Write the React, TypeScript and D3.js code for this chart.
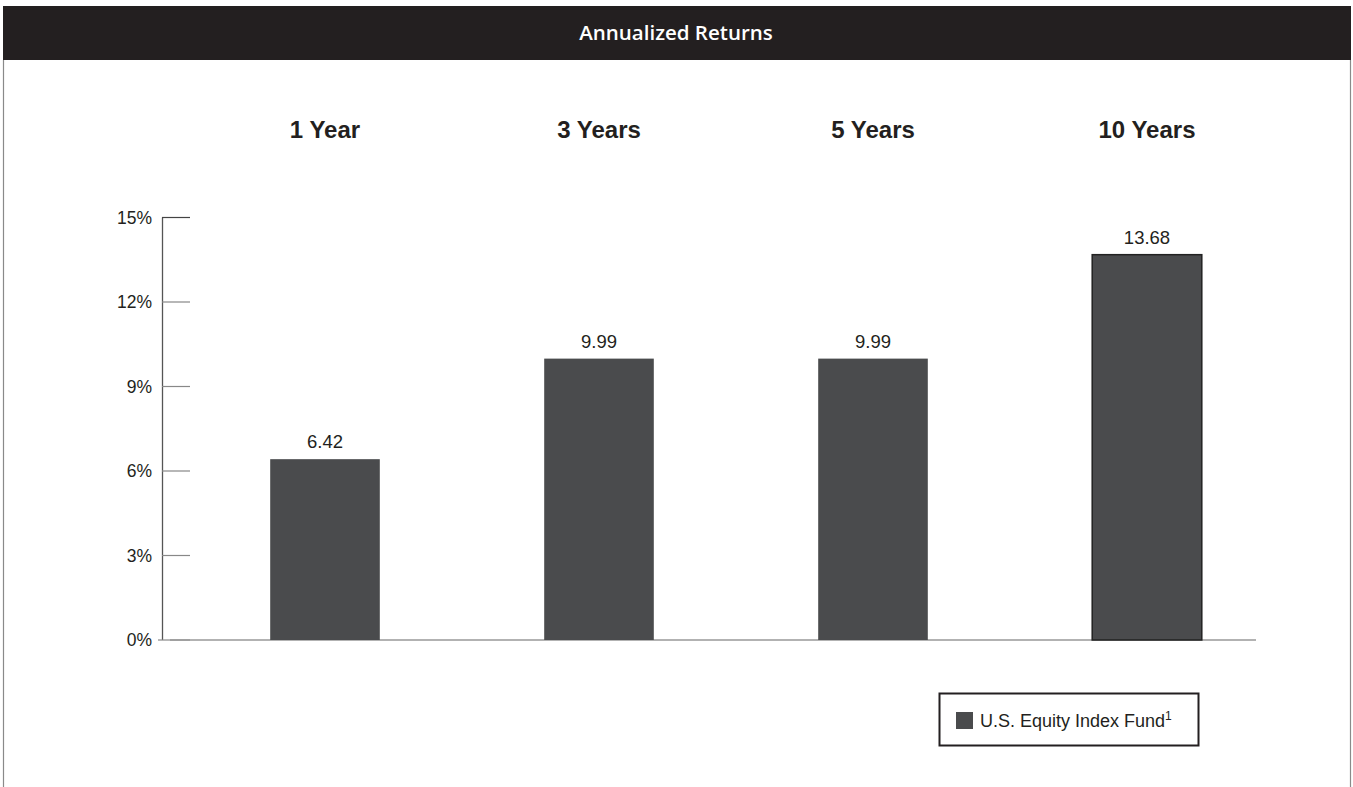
import React, { useEffect, useRef } from "react";
import * as d3 from "d3";

const periods = ["1 Year", "3 Years", "5 Years", "10 Years"];
const returns = [6.42, 9.99, 9.99, 13.68];
const yTicks = [0, 3, 6, 9, 12, 15];
const seriesName = "U.S. Equity Index Fund";

const W = 1353;
const H = 787;
const BAR_COLOR = "#4a4b4d";
const FONT = "Arial, 'Liberation Sans', Helvetica, sans-serif";

const App: React.FC = () => {
  const svgRef = useRef<SVGSVGElement | null>(null);

  useEffect(() => {
    const svg = d3.select(svgRef.current);
    svg.selectAll("*").remove();

    // frame + title bar
    svg.append("rect").attr("width", W).attr("height", H).attr("fill", "#fff");
    svg.append("line")
      .attr("x1", 3.5).attr("x2", 3.5).attr("y1", 60).attr("y2", H)
      .attr("stroke", "#8a8a8a").attr("stroke-width", 1.2);
    svg.append("line")
      .attr("x1", 1350.5).attr("x2", 1350.5).attr("y1", 60).attr("y2", H)
      .attr("stroke", "#8a8a8a").attr("stroke-width", 1.2);
    svg.append("rect")
      .attr("x", 3).attr("y", 6).attr("width", 1348).attr("height", 54)
      .attr("fill", "#231f20");
    svg.append("text")
      .attr("x", 676).attr("y", 40)
      .attr("text-anchor", "middle")
      .style("font-family", "'Open Sans', sans-serif")
      .style("font-weight", 600)
      .style("font-size", "20.5px")
      .style("fill", "#fff")
      .text("Annualized Returns");

    const x = d3.scaleBand<string>()
      .domain(periods)
      .range([188, 1284])
      .paddingInner(0.6)
      .paddingOuter(0.3);

    const y = d3.scaleLinear().domain([0, 15]).range([640, 217.5]);

    // category headers
    svg.append("g")
      .selectAll("text")
      .data(periods)
      .join("text")
      .attr("x", d => x(d)! + x.bandwidth() / 2)
      .attr("y", 138)
      .attr("text-anchor", "middle")
      .style("font-family", FONT)
      .style("font-weight", "bold")
      .style("font-size", "24px")
      .style("fill", "#231f20")
      .text(d => d);

    // y axis
    const axis = svg.append("g");
    axis.append("line")
      .attr("x1", 162.5).attr("x2", 162.5)
      .attr("y1", y(15)).attr("y2", y(0))
      .attr("stroke", "#555").attr("stroke-width", 1.3);
    axis.selectAll("line.tick")
      .data(yTicks)
      .join("line")
      .attr("class", "tick")
      .attr("x1", d => (d === 0 ? 158 : 162))
      .attr("x2", 190)
      .attr("y1", d => y(d))
      .attr("y2", d => y(d))
      .attr("stroke", d => (d === 15 ? "#444" : "#888"))
      .attr("stroke-width", 1.2);
    axis.selectAll("text")
      .data(yTicks)
      .join("text")
      .attr("x", 152)
      .attr("y", d => y(d) + 6)
      .attr("text-anchor", "end")
      .style("font-family", FONT)
      .style("font-size", "17.5px")
      .style("fill", "#231f20")
      .text(d => `${d}%`);

    // baseline
    svg.append("line")
      .attr("x1", 170).attr("x2", 1256)
      .attr("y1", y(0)).attr("y2", y(0))
      .attr("stroke", "#999").attr("stroke-width", 1.5);

    // bars
    const data = periods.map((p, i) => ({ period: p, value: returns[i] }));
    svg.append("g")
      .selectAll("rect")
      .data(data)
      .join("rect")
      .attr("x", d => x(d.period)!)
      .attr("y", d => y(d.value))
      .attr("width", x.bandwidth())
      .attr("height", d => y(0) - y(d.value))
      .attr("fill", BAR_COLOR)
      .attr("stroke", (d, i) => (i === data.length - 1 ? "#222" : "none"))
      .attr("stroke-width", 1.5);

    // value labels
    svg.append("g")
      .selectAll("text")
      .data(data)
      .join("text")
      .attr("x", d => x(d.period)! + x.bandwidth() / 2)
      .attr("y", d => y(d.value) - 11)
      .attr("text-anchor", "middle")
      .style("font-family", FONT)
      .style("font-size", "18.5px")
      .style("fill", "#231f20")
      .text(d => d.value.toFixed(2));

    // legend
    const legend = svg.append("g");
    legend.append("rect")
      .attr("x", 939.5).attr("y", 693.5)
      .attr("width", 259).attr("height", 52)
      .attr("fill", "#fff")
      .attr("stroke", "#231f20").attr("stroke-width", 2);
    legend.append("rect")
      .attr("x", 956).attr("y", 712)
      .attr("width", 17).attr("height", 17)
      .attr("fill", BAR_COLOR);
    const lt = legend.append("text")
      .attr("x", 980).attr("y", 727)
      .style("font-family", FONT)
      .style("font-size", "18px")
      .style("fill", "#231f20")
      .text(seriesName);
    lt.append("tspan")
      .attr("dy", -7)
      .style("font-size", "12px")
      .text("1");
  }, []);

  return (
    <svg
      ref={svgRef}
      width={W}
      height={H}
      style={{ position: "absolute", left: 0, top: 0, display: "block" }}
    />
  );
};

export default App;
